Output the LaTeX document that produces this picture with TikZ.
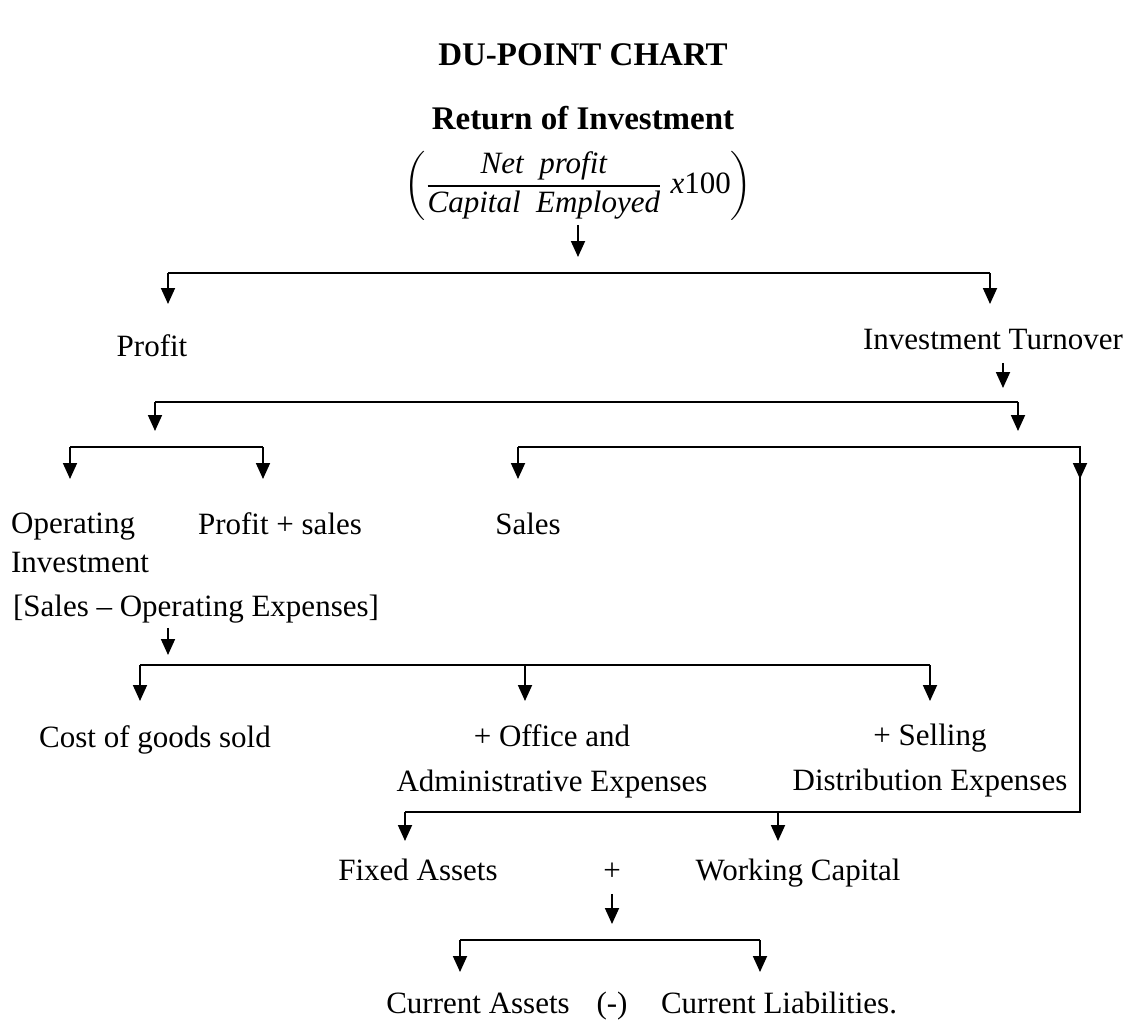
\documentclass[tikz,border=0pt]{standalone}
\usepackage{amsmath}
\usepackage{fontspec}
\setmainfont{Liberation Serif}
\usetikzlibrary{positioning,arrows.meta}
\tikzset{
  lbl/.style={inner sep=2pt, font=\fontsize{15.5}{19.5}\selectfont},
  word/.style={lbl, text height=0.7em, text depth=0.25em},
  head/.style={inner sep=2pt, font=\fontsize{16.5}{20}\selectfont\bfseries},
  bar/.style={line width=0.9pt},
  arr/.style={line width=0.9pt, -{Triangle[width=7pt,length=8pt]}},
}
\begin{document}
\begin{tikzpicture}[x=0.5pt,y=-0.5pt]
\useasboundingbox (0,0) rectangle (1130,1022);
% Heading
\node[head] (title) at (583,55) {DU-POINT CHART};
\node[head] (subtitle) at (583,118) {Return of Investment};

% Formula
\node[lbl] (roi) at (578,186) {$\left(\dfrac{\textit{Net\enspace profit}}{\textit{Capital\enspace Employed}}\;\textit{x}\text{100}\right)$};

% Profit and turnover
\node[word] (profit) at (152,352) {Profit};
\node[word] (turnover) at (993,345) {Investment Turnover};

% Operating investment, profit + sales, sales
\node[lbl, align=left] (opinv) at (80,543) {Operating\\Investment};
\node[word] (profitsales) at (280,530) {Profit + sales};
\node[word] (sales) at (528,530) {Sales};
\node[word] (salesexp) at (196,612) {[Sales -- Operating Expenses]};

% Expenses
\node[word] (cogs) at (155,743) {Cost of goods sold};
\node[lbl, align=center, font=\fontsize{15.5}{22.5}\selectfont] (office) at (552,761) {+ Office and\\Administrative Expenses};
\node[lbl, align=center, font=\fontsize{15.5}{22.5}\selectfont] (selling) at (930,761) {+ Selling\\Distribution Expenses};

% Capital employed
\node[word] (fixed) at (418,876) {Fixed Assets};
\node[word] (plus) at (612,876) {+};
\node[word] (wcap) at (798,876) {Working Capital};

% Working capital
\node[word] (cassets) at (478,1009) {Current Assets};
\node[word] (minus) at (612,1009) {(-)};
\node[word] (cliab) at (779,1009) {Current Liabilities.};

% Junctions
\coordinate (j1) at (578,273);
\coordinate (b1l) at (168,273);
\coordinate (b1r) at (990,273);
\coordinate (t1l) at (168,304);
\coordinate (t1r) at (990,304);
\coordinate (j2) at (1003,402);
\coordinate (b2l) at (155,402);
\coordinate (b2r) at (1018,402);
\coordinate (t2l) at (155,431);
\coordinate (t2r) at (1018,431);
\coordinate (b3a) at (70,447);
\coordinate (b3b) at (263,447);
\coordinate (b3c) at (518,447);
\coordinate (b3d) at (1080,447);
\coordinate (t3a) at (70,479);
\coordinate (t3b) at (263,479);
\coordinate (t3c) at (518,479);
\coordinate (t3d) at (1080,479);
\coordinate (j4) at (168,665);
\coordinate (b4l) at (140,665);
\coordinate (b4m) at (525,665);
\coordinate (b4r) at (930,665);
\coordinate (t4l) at (140,701);
\coordinate (t4m) at (525,701);
\coordinate (t4r) at (930,701);
\coordinate (b5l) at (405,812);
\coordinate (b5m) at (778,812);
\coordinate (b5r) at (1080,812);
\coordinate (t5l) at (405,841);
\coordinate (t5m) at (778,841);
\coordinate (j6) at (612,940);
\coordinate (b6l) at (460,940);
\coordinate (b6r) at (760,940);
\coordinate (t6l) at (460,972);
\coordinate (t6r) at (760,972);

% Connections
\draw[arr, shorten >=8pt] (roi) -- (j1);
\draw[bar] (b1l) -- (b1r);
\draw[arr] (b1l) -- (t1l);
\draw[arr] (b1r) -- (t1r);
\draw[arr, shorten <=2pt, shorten >=7pt] (turnover.south -| j2) -- (j2);
\draw[bar] (b2l) -- (b2r);
\draw[arr] (b2l) -- (t2l);
\draw[arr] (b2r) -- (t2r);
\draw[bar] (b3a) -- (b3b);
\draw[arr] (b3a) -- (t3a);
\draw[arr] (b3b) -- (t3b);
\draw[bar] (b3c) -- (b3d) -- (b5r) -- (b5l);
\draw[arr] (b3c) -- (t3c);
\draw[arr] (b3d) -- (t3d);
\draw[arr, shorten <=1pt, shorten >=5pt] (salesexp.south -| j4) -- (j4);
\draw[bar] (b4l) -- (b4r);
\draw[arr] (b4l) -- (t4l);
\draw[arr] (b4m) -- (t4m);
\draw[arr] (b4r) -- (t4r);
\draw[arr] (b5l) -- (t5l);
\draw[arr] (b5m) -- (t5m);
\draw[arr, shorten <=2pt, shorten >=8pt] (plus) -- (j6);
\draw[bar] (b6l) -- (b6r);
\draw[arr] (b6l) -- (t6l);
\draw[arr] (b6r) -- (t6r);
\end{tikzpicture}
\end{document}
